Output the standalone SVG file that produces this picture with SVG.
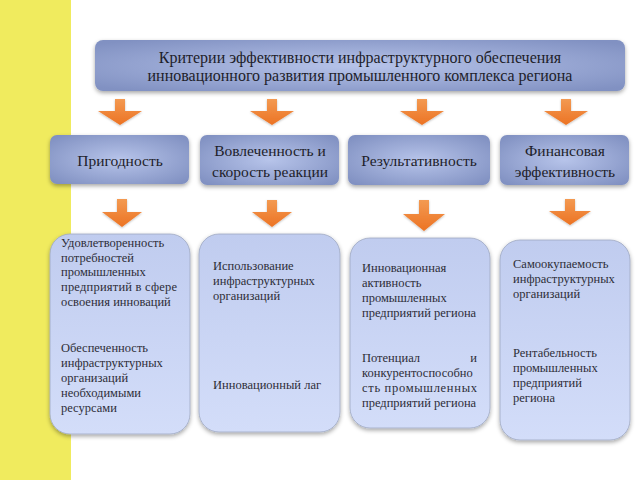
<svg xmlns="http://www.w3.org/2000/svg" width="640" height="480" viewBox="0 0 640 480">
<defs>
<radialGradient id="gHead" cx="50%" cy="50%" r="65%">
<stop offset="0" stop-color="#b7c4ea"/>
<stop offset="1" stop-color="#8191c2"/>
</radialGradient>
<linearGradient id="gBody" x1="0" y1="0" x2="0" y2="1">
<stop offset="0" stop-color="#c0ccef"/>
<stop offset="1" stop-color="#d3ddf9"/>
</linearGradient>
<linearGradient id="gArrow" x1="0" y1="0" x2="0" y2="1">
<stop offset="0" stop-color="#f39a52"/>
<stop offset="1" stop-color="#ec7323"/>
</linearGradient>
<filter id="sh" x="-10%" y="-10%" width="120%" height="130%">
<feDropShadow dx="0" dy="2" stdDeviation="2" flood-color="#000" flood-opacity="0.35"/>
</filter>
<filter id="shs" x="-20%" y="-20%" width="140%" height="140%">
<feDropShadow dx="0" dy="1" stdDeviation="1" flood-color="#000" flood-opacity="0.25"/>
</filter>
</defs>
<style>
.head{fill:url(#gHead);filter:url(#sh)}
.body{fill:url(#gBody);stroke:#9ea8c2;stroke-width:0.8;filter:url(#sh)}
.arr{fill:url(#gArrow);filter:url(#shs)}
text{font-family:'Liberation Serif','Times New Roman',serif}
.tt{font-size:16px;fill:#1e1e2a;text-anchor:middle}
.ht{font-size:15.5px;fill:#1e1e2a;text-anchor:middle}
.bt{font-size:12.5px;fill:#2e2e38}
</style>
<rect x="0" y="0" width="640" height="480" fill="#ffffff"/>
<rect x="0" y="0" width="71" height="480" fill="#f0eb5e"/>

<g id="title">
<rect class="head" x="95" y="40" width="530" height="51" rx="8"/>
<text class="tt" x="360" y="63">Критерии эффективности инфраструктурного обеспечения</text>
<text class="tt" x="360" y="81">инновационного развития промышленного комплекса региона</text>
</g>

<g id="connectors">
<polygon class="arr" points="115,99 125,99 125,111 142,111 120,125 98,111 115,111"/>
<polygon class="arr" points="267,99 277,99 277,111 294,111 272,125 250,111 267,111"/>
<polygon class="arr" points="417,99 427,99 427,111 444,111 422,125 400,111 417,111"/>
<polygon class="arr" points="561,99 571,99 571,111 588,111 566,125 544,111 561,111"/>
<polygon class="arr" points="117,199 127,199 127,212 142,212 122,227 102,212 117,212"/>
<polygon class="arr" points="267,200 277,200 277,212 292,212 272,227 252,212 267,212"/>
<polygon class="arr" points="419,200 429,200 429,214 445,214 424,231 403,214 419,214"/>
<polygon class="arr" points="565,199 575,199 575,211 591,211 570,225 549,211 565,211"/>
</g>

<g id="n-prigodnost">
<rect class="head" x="50" y="135" width="139" height="49" rx="7"/>
<text class="ht" x="120" y="166">Пригодность</text>
</g>
<g id="n-vovlechennost">
<rect class="head" x="200" y="135" width="139" height="50" rx="7"/>
<text class="ht" x="270" y="156">Вовлеченность и</text>
<text class="ht" x="270" y="177">скорость реакции</text>
</g>
<g id="n-rezultativnost">
<rect class="head" x="348" y="135" width="142" height="50" rx="7"/>
<text class="ht" x="419" y="166">Результативность</text>
</g>
<g id="n-finansovaya">
<rect class="head" x="500" y="135" width="129" height="50" rx="7"/>
<text class="ht" x="565" y="156">Финансовая</text>
<text class="ht" x="565" y="177">эффективность</text>
</g>

<g id="b-prigodnost">
<rect class="body" x="50" y="234" width="140" height="200" rx="20"/>
<text class="bt" x="61" y="247">Удовлетворенность</text>
<text class="bt" x="61" y="262">потребностей</text>
<text class="bt" x="61" y="276">промышленных</text>
<text class="bt" x="61" y="291" textLength="116" lengthAdjust="spacing">предприятий в сфере</text>
<text class="bt" x="61" y="306">освоения инноваций</text>
<text class="bt" x="61" y="352">Обеспеченность</text>
<text class="bt" x="61" y="367">инфраструктурных</text>
<text class="bt" x="61" y="382">организаций</text>
<text class="bt" x="61" y="397">необходимыми</text>
<text class="bt" x="61" y="412">ресурсами</text>
</g>
<g id="b-vovlechennost">
<rect class="body" x="199" y="234" width="141" height="198" rx="20"/>
<text class="bt" x="213" y="270">Использование</text>
<text class="bt" x="213" y="285">инфраструктурных</text>
<text class="bt" x="213" y="300">организаций</text>
<text class="bt" x="213" y="389">Инновационный лаг</text>
</g>
<g id="b-rezultativnost">
<rect class="body" x="350" y="238" width="140" height="190" rx="20"/>
<text class="bt" x="362" y="272">Инновационная</text>
<text class="bt" x="362" y="287">активность</text>
<text class="bt" x="362" y="302">промышленных</text>
<text class="bt" x="362" y="317">предприятий региона</text>
<text class="bt" x="362" y="362">Потенциал</text>
<text class="bt" x="477" y="362" text-anchor="end">и</text>
<text class="bt" x="362" y="377">конкурентоспособно</text>
<text class="bt" x="362" y="392" textLength="115" lengthAdjust="spacing">сть   промышленных</text>
<text class="bt" x="362" y="407">предприятий региона</text>
</g>
<g id="b-finansovaya">
<rect class="body" x="500" y="240" width="130" height="200" rx="20"/>
<text class="bt" x="513" y="268">Самоокупаемость</text>
<text class="bt" x="513" y="283">инфраструктурных</text>
<text class="bt" x="513" y="298">организаций</text>
<text class="bt" x="513" y="357">Рентабельность</text>
<text class="bt" x="513" y="372">промышленных</text>
<text class="bt" x="513" y="387">предприятий</text>
<text class="bt" x="513" y="402">региона</text>
</g>
</svg>
